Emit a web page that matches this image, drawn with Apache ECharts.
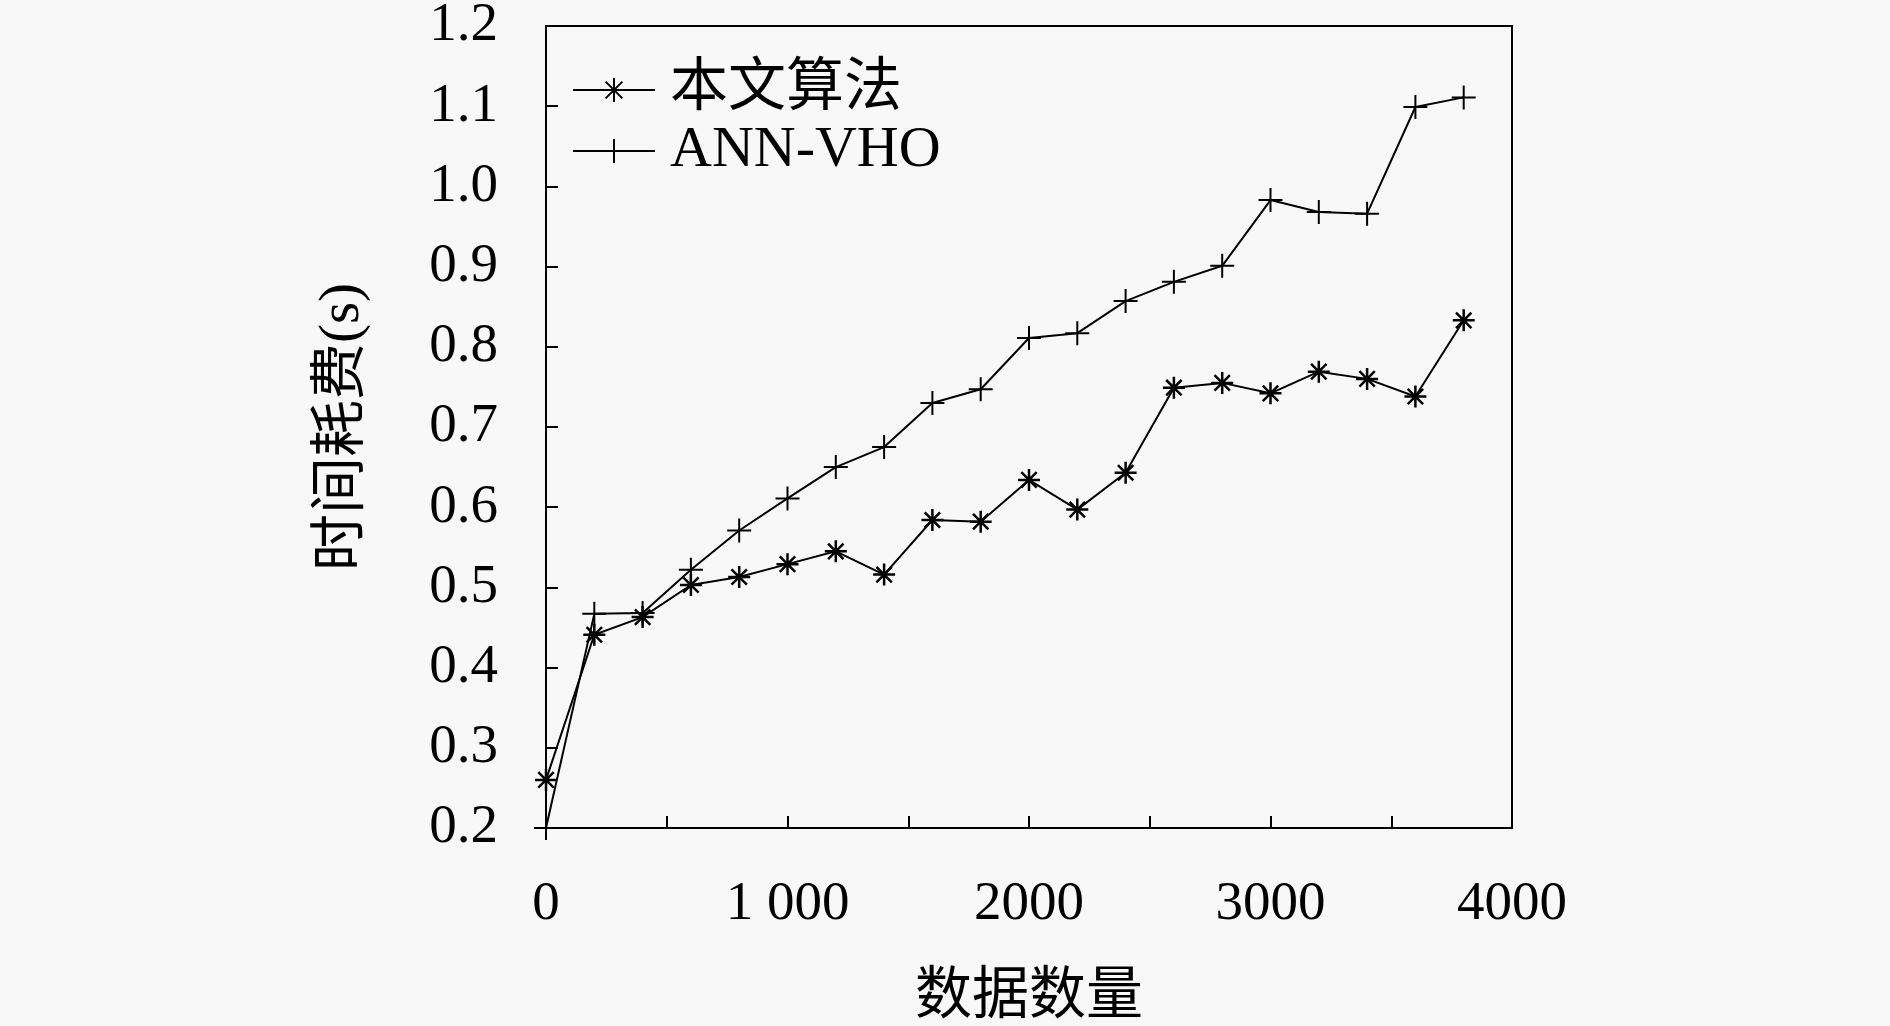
<!DOCTYPE html>
<html>
<head>
<meta charset="utf-8">
<script src="https://cdn.jsdelivr.net/npm/echarts@6/dist/echarts.min.js"></script>
<style>
html,body{margin:0;padding:0;background:#f8f8f8;}
#main{width:1890px;height:1026px;}
</style>
</head>
<body>
<div id="main"></div>
<script>
const xValues = [0,200,400,600,800,1000,1200,1400,1600,1800,2000,2200,2400,2600,2800,3000,3200,3400,3600,3800];
const oursValues = [0.260,0.441,0.463,0.503,0.513,0.529,0.545,0.516,0.584,0.582,0.634,0.597,0.643,0.749,0.755,0.742,0.769,0.760,0.738,0.833];
const annValues = [0.200,0.467,0.468,0.522,0.571,0.611,0.650,0.675,0.730,0.747,0.811,0.817,0.857,0.881,0.901,0.983,0.968,0.966,1.099,1.111];
const seriesNames = ['本文算法','ANN-VHO'];
const xTickLabels = {0:'0',1000:'1 000',2000:'2000',3000:'3000',4000:'4000'};
const xAxisName = '数据数量';
const yAxisName = '时间耗费(s)';

const FONT = "'Liberation Serif', 'Noto Sans CJK SC', serif";
const starPath = 'path://M0,-10L0,10M-10,0L10,0M-7,-7L7,7M-7,7L7,-7';
const plusPath = 'path://M0,-10L0,10M-10,0L10,0';

const chart = echarts.init(document.getElementById('main'));
chart.setOption({
  backgroundColor: '#f8f8f8',
  animation: false,
  textStyle: {fontFamily: FONT, color: '#000'},
  grid: {left: 546, right: 378, top: 26, bottom: 198, show: true, borderColor: '#000', borderWidth: 2,
    backgroundColor: 'transparent', containLabel: false, outerBoundsMode: 'none'},
  legend: {
    orient: 'vertical', left: 567, top: 56,
    itemWidth: 82, itemHeight: 30, itemGap: 3,
    textStyle: {fontFamily: FONT, fontSize: 58, color: '#000', padding: [0,0,0,10]},
    itemStyle: {color: '#000', borderColor: '#000', borderWidth: 2},
    lineStyle: {color: '#000', width: 2},
    data: seriesNames
  },
  xAxis: {
    type: 'value', min: 0, max: 4000, interval: 500,
    name: xAxisName, nameLocation: 'middle', nameGap: 142,
    nameTextStyle: {fontFamily: FONT, fontSize: 57, color: '#000'},
    axisLine: {show: true, lineStyle: {color: '#000', width: 2}},
    axisTick: {show: true, inside: true, length: 12, lineStyle: {color: '#000', width: 2}},
    axisLabel: {margin: 49, fontSize: 55, color: '#000', fontFamily: FONT,
      formatter: v => (xTickLabels[v] !== undefined ? xTickLabels[v] : '')},
    splitLine: {show: false}
  },
  yAxis: {
    type: 'value', min: 0.2, max: 1.2, interval: 0.1,
    name: yAxisName, nameLocation: 'middle', nameGap: 174, nameRotate: 90,
    nameTextStyle: {fontFamily: FONT, fontSize: 57, color: '#000'},
    axisLine: {show: true, lineStyle: {color: '#000', width: 2}},
    axisTick: {show: true, inside: true, length: 12, lineStyle: {color: '#000', width: 2}},
    axisLabel: {margin: 48, fontSize: 55, color: '#000', fontFamily: FONT,
      formatter: v => v.toFixed(1)},
    splitLine: {show: false}
  },
  series: [
    {
      name: seriesNames[0], type: 'line',
      data: xValues.map((x, i) => [x, oursValues[i]]),
      symbol: starPath, symbolSize: 22,
      lineStyle: {color: '#000', width: 2},
      itemStyle: {color: '#000', borderColor: '#000', borderWidth: 2.5},
      clip: false
    },
    {
      name: seriesNames[1], type: 'line',
      data: xValues.map((x, i) => [x, annValues[i]]),
      symbol: plusPath, symbolSize: 24,
      lineStyle: {color: '#000', width: 2},
      itemStyle: {color: '#000', borderColor: '#000', borderWidth: 2},
      clip: false
    }
  ]
});
</script>
</body>
</html>
